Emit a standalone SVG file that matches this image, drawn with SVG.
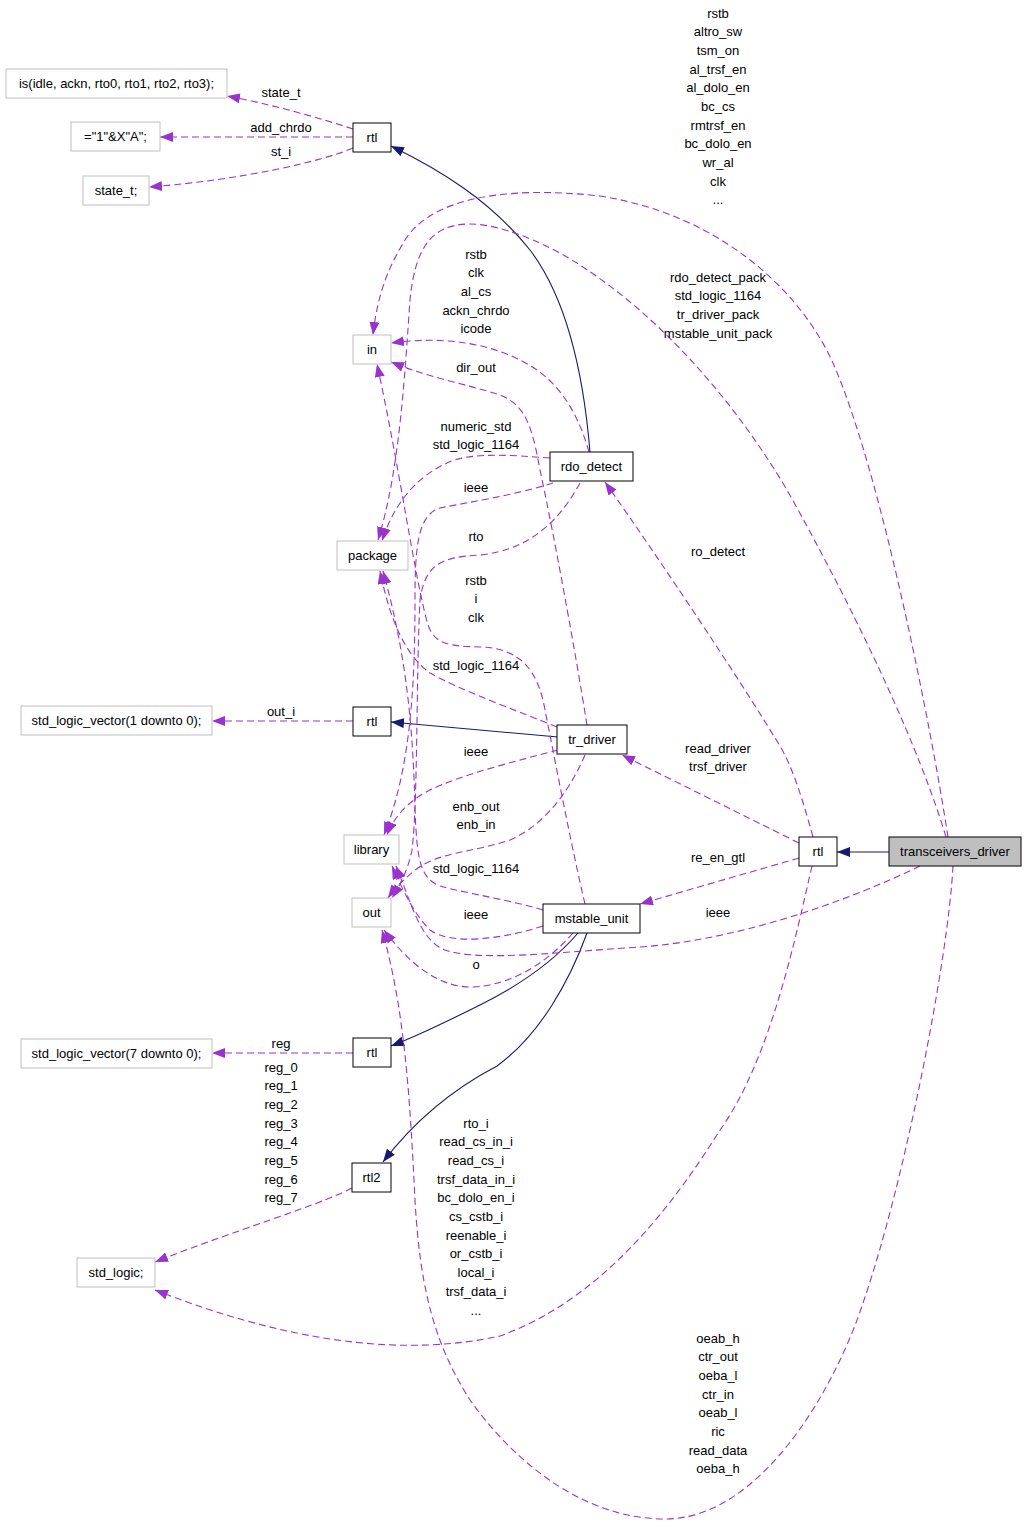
<svg xmlns="http://www.w3.org/2000/svg" width="1027" height="1533" viewBox="0 0 1027 1533">
<style>
text{font-family:"Liberation Sans",Arial,sans-serif;font-size:13px;text-anchor:middle;fill:#000}
.n rect{fill:#fff;stroke:#000;stroke-width:1}
.g rect{fill:#fff;stroke:#bfbfbf;stroke-width:1}
.main rect{fill:#bfbfbf;stroke:#000;stroke-width:1}
.s{fill:none;stroke:#191970;stroke-width:1.1;marker-end:url(#an)}
.d{fill:none;stroke:#9a32cd;stroke-width:1.1;stroke-dasharray:7,4;marker-end:url(#ap)}
</style>
<defs>
<marker id="an" markerUnits="userSpaceOnUse" markerWidth="14" markerHeight="10" refX="13" refY="5" orient="auto"><path d="M0,0 L13,5 L0,10 z" fill="#191970" stroke="none"/></marker>
<marker id="ap" markerUnits="userSpaceOnUse" markerWidth="14" markerHeight="10" refX="13" refY="5" orient="auto"><path d="M0,0 L13,5 L0,10 z" fill="#9a32cd" stroke="none"/></marker>
</defs>
<rect width="1027" height="1533" fill="#fff"/>
<g id="connectors">
<path class="s" d="M889,852 L837,852"/>
<path class="s" d="M590,452 C584,380 568,300 530,250 C490,200 440,170 391,146"/>
<path class="s" d="M558,737 L391,722"/>
<path class="s" d="M578,933 C555,960 520,985 480,1005 C450,1020 420,1035 391,1046"/>
<path class="s" d="M587,933 C570,980 540,1035 497,1066 C455,1088 415,1120 383,1162"/>
<path class="d" d="M353,129 C320,118 270,104 227,96"/>
<path class="d" d="M353,137 L160,137"/>
<path class="d" d="M353,148 C320,162 240,180 149,187"/>
<path class="d" d="M353,721 L212,721"/>
<path class="d" d="M353,1053 L212,1053"/>
<path class="d" d="M352,1188 C320,1205 230,1232 155,1262"/>
<path class="d" d="M799,843 L622,755"/>
<path class="d" d="M799,858 L640,904"/>
<path class="d" d="M813,837 C800,790 790,760 775,738 C740,680 660,560 605,482"/>
<path class="d" d="M812,866 C795,940 770,1060 720,1130 C670,1210 600,1300 500,1336 C390,1360 270,1335 155,1290"/>
<path class="d" d="M953,866 C948,960 905,1180 864,1300 C835,1390 760,1519 665,1519 C590,1519 520,1470 470,1400 C435,1345 420,1290 415,1200 C410,1100 405,1010 382,930"/>
<path class="d" d="M573,933 C545,965 510,985 473,987 C440,988 410,965 384,930"/>
<path class="d" d="M543,926 C500,940 450,945 430,930 C415,915 405,895 392,866"/>
<path class="d" d="M920,866 C850,900 740,940 640,947 C560,952 480,962 445,950 C420,940 412,905 396,866"/>
<path class="d" d="M587,725 C575,650 555,540 540,470 C532,425 525,405 500,395 C470,385 430,378 391,362"/>
<path class="d" d="M557,727 C520,712 460,690 430,673 C405,655 390,620 380,571"/>
<path class="d" d="M558,750 C520,760 460,775 430,790 C410,800 395,815 387,835"/>
<path class="d" d="M585,755 C570,790 545,825 510,840 C475,852 440,852 418,868 C405,878 395,888 388,898"/>
<path class="d" d="M589,452 C580,420 565,390 537,370 C500,345 450,335 391,343"/>
<path class="d" d="M550,458 C510,455 470,452 447,463 C420,475 395,500 382,541"/>
<path class="d" d="M553,483 C515,495 470,502 440,508 C418,515 415,545 415,600 C415,690 410,770 384,835"/>
<path class="d" d="M580,483 C560,520 530,550 480,555 C440,557 425,565 420,600 C416,680 418,800 412,850 C408,870 400,885 392,898"/>
<path class="d" d="M585,904 C570,840 555,760 545,710 C538,670 520,648 480,647 C450,646 435,645 428,625 C415,580 400,470 377,364"/>
<path class="d" d="M543,910 C510,900 460,892 440,886 C420,878 417,860 415,810 C413,720 405,650 383,571"/>
<path class="d" d="M948,837 C930,720 880,470 833,363 C800,290 720,215 600,196 C500,185 430,200 405,240 C390,265 378,290 373,335"/>
<path class="d" d="M946,837 C920,750 860,620 787,490 C740,410 660,310 560,253 C520,232 490,224 470,224 C430,224 415,250 410,300 C405,370 400,470 378,540"/>
</g>
<g id="edge-labels">
<text x="718" y="17.5"><tspan x="718">rstb</tspan><tspan x="718" dy="18.7">altro_sw</tspan><tspan x="718" dy="18.7">tsm_on</tspan><tspan x="718" dy="18.7">al_trsf_en</tspan><tspan x="718" dy="18.7">al_dolo_en</tspan><tspan x="718" dy="18.7">bc_cs</tspan><tspan x="718" dy="18.7">rmtrsf_en</tspan><tspan x="718" dy="18.7">bc_dolo_en</tspan><tspan x="718" dy="18.7">wr_al</tspan><tspan x="718" dy="18.7">clk</tspan><tspan x="718" dy="18.7">...</tspan></text>
<text x="718" y="281.5"><tspan x="718">rdo_detect_pack</tspan><tspan x="718" dy="18.7">std_logic_1164</tspan><tspan x="718" dy="18.7">tr_driver_pack</tspan><tspan x="718" dy="18.7">mstable_unit_pack</tspan></text>
<text x="476" y="258.5"><tspan x="476">rstb</tspan><tspan x="476" dy="18.7">clk</tspan><tspan x="476" dy="18.7">al_cs</tspan><tspan x="476" dy="18.7">ackn_chrdo</tspan><tspan x="476" dy="18.7">icode</tspan></text>
<text x="476" y="371.5">dir_out</text>
<text x="476" y="430.5"><tspan x="476">numeric_std</tspan><tspan x="476" dy="18.7">std_logic_1164</tspan></text>
<text x="476" y="491.5">ieee</text>
<text x="476" y="540.5">rto</text>
<text x="476" y="584.5"><tspan x="476">rstb</tspan><tspan x="476" dy="18.7">i</tspan><tspan x="476" dy="18.7">clk</tspan></text>
<text x="476" y="669.5">std_logic_1164</text>
<text x="476" y="755.5">ieee</text>
<text x="476" y="810.5"><tspan x="476">enb_out</tspan><tspan x="476" dy="18.7">enb_in</tspan></text>
<text x="476" y="872.5">std_logic_1164</text>
<text x="476" y="918.5">ieee</text>
<text x="476" y="968.5">o</text>
<text x="718" y="555.5">ro_detect</text>
<text x="718" y="752.5"><tspan x="718">read_driver</tspan><tspan x="718" dy="18.7">trsf_driver</tspan></text>
<text x="718" y="861.5">re_en_gtl</text>
<text x="718" y="916.5">ieee</text>
<text x="281" y="96.5">state_t</text>
<text x="281" y="131.5">add_chrdo</text>
<text x="281" y="155.5">st_i</text>
<text x="281" y="715.5">out_i</text>
<text x="281" y="1047.5">reg</text>
<text x="281" y="1071.5"><tspan x="281">reg_0</tspan><tspan x="281" dy="18.7">reg_1</tspan><tspan x="281" dy="18.7">reg_2</tspan><tspan x="281" dy="18.7">reg_3</tspan><tspan x="281" dy="18.7">reg_4</tspan><tspan x="281" dy="18.7">reg_5</tspan><tspan x="281" dy="18.7">reg_6</tspan><tspan x="281" dy="18.7">reg_7</tspan></text>
<text x="476" y="1127.5"><tspan x="476">rto_i</tspan><tspan x="476" dy="18.7">read_cs_in_i</tspan><tspan x="476" dy="18.7">read_cs_i</tspan><tspan x="476" dy="18.7">trsf_data_in_i</tspan><tspan x="476" dy="18.7">bc_dolo_en_i</tspan><tspan x="476" dy="18.7">cs_cstb_i</tspan><tspan x="476" dy="18.7">reenable_i</tspan><tspan x="476" dy="18.7">or_cstb_i</tspan><tspan x="476" dy="18.7">local_i</tspan><tspan x="476" dy="18.7">trsf_data_i</tspan><tspan x="476" dy="18.7">...</tspan></text>
<text x="718" y="1342.5"><tspan x="718">oeab_h</tspan><tspan x="718" dy="18.7">ctr_out</tspan><tspan x="718" dy="18.7">oeba_l</tspan><tspan x="718" dy="18.7">ctr_in</tspan><tspan x="718" dy="18.7">oeab_l</tspan><tspan x="718" dy="18.7">ric</tspan><tspan x="718" dy="18.7">read_data</tspan><tspan x="718" dy="18.7">oeba_h</tspan></text>
</g>
<g id="node_transceivers_driver" class="main"><rect x="889" y="837" width="132" height="29"/><text x="955" y="856">transceivers_driver</text></g>
<g id="node_rtl_right" class="n"><rect x="799" y="837" width="38" height="29"/><text x="818" y="856">rtl</text></g>
<g id="node_rdo_detect" class="n"><rect x="550" y="452" width="83" height="29"/><text x="591.5" y="471">rdo_detect</text></g>
<g id="node_tr_driver" class="n"><rect x="557" y="725" width="70" height="29"/><text x="592" y="744">tr_driver</text></g>
<g id="node_mstable_unit" class="n"><rect x="543" y="904" width="97" height="29"/><text x="591.5" y="923">mstable_unit</text></g>
<g id="node_rtl_top" class="n"><rect x="353" y="123" width="38" height="29"/><text x="372" y="142">rtl</text></g>
<g id="node_rtl_mid" class="n"><rect x="353" y="707" width="38" height="29"/><text x="372" y="726">rtl</text></g>
<g id="node_rtl_low" class="n"><rect x="353" y="1038" width="38" height="29"/><text x="372" y="1057">rtl</text></g>
<g id="node_rtl2" class="n"><rect x="352" y="1163" width="39" height="29"/><text x="371.5" y="1182">rtl2</text></g>
<g id="node_in" class="g"><rect x="353" y="335" width="38" height="29"/><text x="372" y="354">in</text></g>
<g id="node_package" class="g"><rect x="337" y="541" width="71" height="29"/><text x="372.5" y="560">package</text></g>
<g id="node_library" class="g"><rect x="344" y="835" width="55" height="29"/><text x="371.5" y="854">library</text></g>
<g id="node_out" class="g"><rect x="352" y="898" width="39" height="29"/><text x="371.5" y="917">out</text></g>
<g id="node_is" class="g"><rect x="6" y="69" width="221" height="29"/><text x="116.5" y="88">is(idle, ackn, rto0, rto1, rto2, rto3);</text></g>
<g id="node_const" class="g"><rect x="71" y="122" width="89" height="29"/><text x="115.5" y="141">=&quot;1&quot;&amp;X&quot;A&quot;;</text></g>
<g id="node_state_t" class="g"><rect x="83" y="176" width="66" height="29"/><text x="116" y="195">state_t;</text></g>
<g id="node_slv1" class="g"><rect x="21" y="706" width="191" height="29"/><text x="116.5" y="725">std_logic_vector(1 downto 0);</text></g>
<g id="node_slv7" class="g"><rect x="21" y="1039" width="191" height="29"/><text x="116.5" y="1058">std_logic_vector(7 downto 0);</text></g>
<g id="node_std_logic" class="g"><rect x="77" y="1258" width="78" height="29"/><text x="116" y="1277">std_logic;</text></g>
</svg>
